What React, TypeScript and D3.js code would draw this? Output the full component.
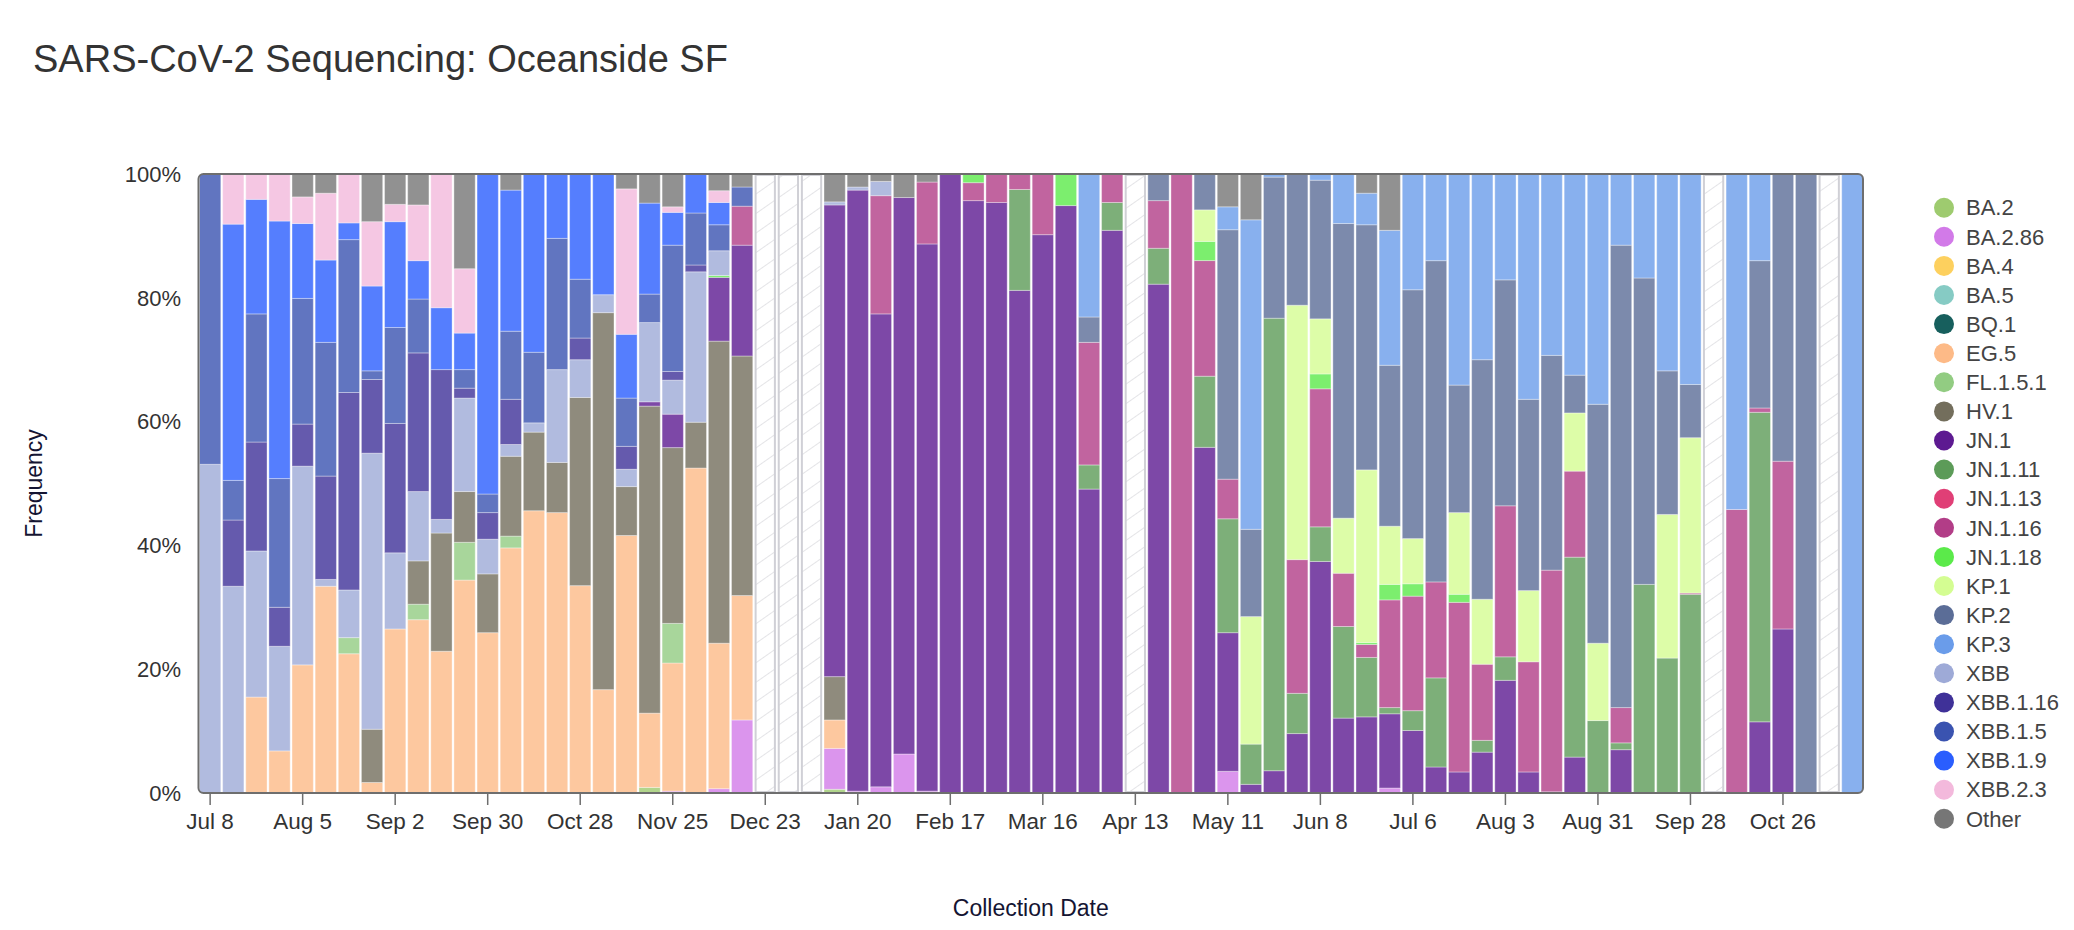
import * as d3 from "d3";

// lineages, bottom to top of each stack (same order as the legend)
const lineages = [
  "BA.2", "BA.2.86", "BA.4", "BA.5", "BQ.1", "EG.5", "FL.1.5.1", "HV.1",
  "JN.1", "JN.1.11", "JN.1.13", "JN.1.16", "JN.1.18", "KP.1", "KP.2", "KP.3",
  "XBB", "XBB.1.16", "XBB.1.5", "XBB.1.9", "XBB.2.3", "Other",
];

const colors = [
  "#9ecb6f", "#d27ae8", "#fdd05e", "#86cbc4", "#175f5d", "#fdba87", "#92cc82", "#736e5c",
  "#5d1a91", "#5c9b58", "#e03f76", "#b23d87", "#5bea4a", "#d4fd92", "#5b6d97", "#6a9cea",
  "#9eaad7", "#3f3198", "#3a53b0", "#2a5efe", "#f3b9dc", "#767676",
];

// weekly collection dates start on Jul 8 2023, 72 weeks
const firstWeek = "2023-07-08";
const weekCount = 72;
// weeks with no sequencing data (drawn hatched)
const missingWeeks = [24, 25, 26, 40, 65, 70];

const tickLabels = [
  "Jul 8", "Aug 5", "Sep 2", "Sep 30", "Oct 28", "Nov 25", "Dec 23", "Jan 20", "Feb 17",
  "Mar 16", "Apr 13", "May 11", "Jun 8", "Jul 6", "Aug 3", "Aug 31", "Sep 28", "Oct 26",
];
const yTicks = [0, 0.2, 0.4, 0.6, 0.8, 1];

// percent of sequences per week, one array per lineage
const BA_2 = [
  0, 0, 0, 0, 0, 0, 0, 0, 0, 0, 0, 0,
  0, 0, 0, 0, 0, 0, 0, 0.9, 0, 0, 0, 0,
  0, 0, 0, 0.6, 0, 0, 0, 0, 0, 0, 0, 0,
  0, 0, 0, 0, 0, 0, 0, 0, 0, 0, 0, 0,
  0, 0, 0, 0, 0, 0, 0, 0, 0, 0, 0, 0,
  0, 0, 0, 0, 0, 0, 0, 0, 0, 0, 0, 0,
];
const BA_2_86 = [
  0, 0, 0, 0, 0, 0, 0, 0, 0, 0, 0, 0,
  0, 0, 0, 0, 0, 0, 0, 0, 0.3, 0, 0.7, 11.8,
  0, 0, 0, 6.6, 0.3, 1.0, 6.3, 0.3, 0, 0, 0, 0,
  0, 0, 0, 0, 0, 0, 0, 0, 3.5, 0, 0, 0,
  0, 0, 0, 0.8, 0, 0, 0, 0, 0, 0, 0, 0,
  0, 0, 0, 0, 0, 0, 0, 0, 0, 0, 0, 0,
];
const BA_4 = [
  0, 0, 0, 0, 0, 0, 0, 0, 0, 0, 0, 0,
  0, 0, 0, 0, 0, 0, 0, 0, 0, 0, 0, 0,
  0, 0, 0, 0, 0, 0, 0, 0, 0, 0, 0, 0,
  0, 0, 0, 0, 0, 0, 0, 0, 0, 0, 0, 0,
  0, 0, 0, 0, 0, 0, 0, 0, 0, 0, 0, 0,
  0, 0, 0, 0, 0, 0, 0, 0, 0, 0, 0, 0,
];
const BA_5 = [
  0, 0, 0, 0, 0, 0, 0, 0, 0, 0, 0, 0,
  0, 0, 0, 0, 0, 0, 0, 0, 0, 0, 0, 0,
  0, 0, 0, 0, 0, 0, 0, 0, 0, 0, 0, 0,
  0, 0, 0, 0, 0, 0, 0, 0, 0, 0, 0, 0,
  0, 0, 0, 0, 0, 0, 0, 0, 0, 0, 0, 0,
  0, 0, 0, 0, 0, 0, 0, 0, 0, 0, 0, 0,
];
const BQ_1 = [
  0, 0, 0, 0, 0, 0, 0, 0, 0, 0, 0, 0,
  0, 0, 0, 0, 0, 0, 0, 0, 0, 0, 0, 0,
  0, 0, 0, 0, 0, 0, 0, 0, 0, 0, 0, 0,
  0, 0, 0, 0, 0, 0, 0, 0, 0, 0, 0, 0,
  0, 0, 0, 0, 0, 0, 0, 0, 0, 0, 0, 0,
  0, 0, 0, 0, 0, 0, 0, 0, 0, 0, 0, 0,
];
const EG_5 = [
  0, 0, 15.5, 6.8, 20.7, 33.4, 22.5, 1.7, 26.5, 28.0, 22.9, 34.4,
  25.9, 39.6, 45.6, 45.3, 33.5, 16.7, 41.6, 12.0, 20.7, 52.5, 23.5, 20.1,
  0, 0, 0, 4.6, 0, 0, 0, 0, 0, 0, 0, 0,
  0, 0, 0, 0, 0, 0, 0, 0, 0, 0, 0, 0,
  0, 0, 0, 0, 0, 0, 0, 0, 0, 0, 0, 0,
  0, 0, 0, 0, 0, 0, 0, 0, 0, 0, 0, 0,
];
const FL_1_5_1 = [
  0, 0, 0, 0, 0, 0, 2.6, 0, 0, 2.5, 0, 6.1,
  0, 1.9, 0, 0, 0, 0, 0, 0, 6.4, 0, 0, 0,
  0, 0, 0, 0, 0, 0, 0, 0, 0, 0, 0, 0,
  0, 0, 0, 0, 0, 0, 0, 0, 0, 0, 0, 0,
  0, 0, 0, 0, 0, 0, 0, 0, 0, 0, 0, 0,
  0, 0, 0, 0, 0, 0, 0, 0, 0, 0, 0, 0,
];
const HV_1 = [
  0, 0, 0, 0, 0, 0, 0, 8.6, 0, 7.0, 19.1, 8.2,
  9.5, 12.9, 12.7, 8.1, 30.4, 60.9, 7.9, 49.6, 28.4, 7.4, 48.8, 38.7,
  0, 0, 0, 7.0, 0, 0, 0, 0, 0, 0, 0, 0,
  0, 0, 0, 0, 0, 0, 0, 0, 0, 0, 0, 0,
  0, 0, 0, 0, 0, 0, 0, 0, 0, 0, 0, 0,
  0, 0, 0, 0, 0, 0, 0, 0, 0, 0, 0, 0,
];
const JN_1 = [
  0, 0, 0, 0, 0, 0, 0, 0, 0, 0, 0, 0,
  0, 0, 0, 0, 0, 0, 0, 0.7, 5.4, 0, 10.3, 17.9,
  0, 0, 0, 76.2, 97.1, 76.4, 89.9, 88.4, 100, 95.7, 95.4, 81.2,
  90.2, 94.9, 49.1, 90.9, 0, 82.2, 0, 55.9, 22.4, 1.4, 3.6, 9.6,
  37.4, 12.1, 12.3, 12.0, 10.1, 4.2, 3.4, 6.6, 18.2, 3.4, 0.2, 5.8,
  0, 7.0, 0, 0, 0, 0, 0, 11.5, 26.5, 0, 0, 0,
];
const JN_1_11 = [
  0, 0, 0, 0, 0, 0, 0, 0, 0, 0, 0, 0,
  0, 0, 0, 0, 0, 0, 0, 0, 0, 0, 0, 0,
  0, 0, 0, 0, 0, 0, 0, 0, 0, 0, 0, 16.3,
  0, 0, 3.9, 4.5, 0, 5.8, 0, 11.5, 18.4, 6.5, 73.1, 6.5,
  5.6, 14.8, 9.6, 1.0, 3.2, 14.4, 0, 1.9, 3.8, 0, 0, 32.3,
  11.7, 1.1, 33.7, 21.8, 32.1, 0, 0, 50.0, 0, 0, 0, 0,
];
const JN_1_13 = [
  0, 0, 0, 0, 0, 0, 0, 0, 0, 0, 0, 0,
  0, 0, 0, 0, 0, 0, 0, 0, 0, 0, 0, 0,
  0, 0, 0, 0, 0, 0, 0, 0, 0, 0, 0, 0,
  0, 0, 0, 0, 0, 0, 0, 0, 0, 0, 0, 0,
  0, 0, 0, 0, 0, 0, 0, 0, 0, 0, 0, 0,
  0, 0, 0, 0, 0, 0, 0, 0, 0, 0, 0, 0,
];
const JN_1_16 = [
  0, 0, 0, 0, 0, 0, 0, 0, 0, 0, 0, 0,
  0, 0, 0, 0, 0, 0, 0, 0, 0, 0, 0, 6.3,
  0, 0, 0, 0, 0, 19.1, 0, 10.0, 0, 2.9, 4.6, 2.5,
  9.8, 0, 19.8, 4.6, 0, 7.7, 100, 18.7, 6.4, 0, 0, 21.6,
  22.3, 8.6, 2.1, 17.4, 18.5, 15.5, 27.4, 12.3, 24.4, 17.8, 35.8, 13.9,
  0, 5.7, 0, 0, 0.2, 0, 45.8, 0.7, 27.1, 0, 0, 0,
];
const JN_1_18 = [
  0, 0, 0, 0, 0, 0, 0, 0, 0, 0, 0, 0,
  0, 0, 0, 0, 0, 0, 0, 0, 0, 0, 0.3, 0,
  0, 0, 0, 0, 0, 0, 0, 0, 0, 1.4, 0, 0,
  0, 5.1, 0, 0, 0, 0, 0, 3.1, 0, 0, 0, 0,
  2.4, 0, 0.3, 2.5, 2.0, 0, 1.3, 0, 0, 0, 0, 0,
  0, 0, 0, 0, 0, 0, 0, 0, 0, 0, 0, 0,
];
const KP_1 = [
  0, 0, 0, 0, 0, 0, 0, 0, 0, 0, 0, 0,
  0, 0, 0, 0, 0, 0, 0, 0, 0, 0, 0, 0,
  0, 0, 0, 0, 0, 0, 0, 0, 0, 0, 0, 0,
  0, 0, 0, 0, 0, 0, 0, 5.1, 0, 20.6, 0, 41.1,
  8.9, 8.9, 27.9, 9.4, 7.3, 0, 13.2, 10.5, 0, 11.5, 0, 9.4,
  12.5, 0, 0, 23.2, 25.1, 0, 0, 0, 0, 0, 0, 0,
];
const KP_2 = [
  0, 0, 0, 0, 0, 0, 0, 0, 0, 0, 0, 0,
  0, 0, 0, 0, 0, 0, 0, 0, 0, 0, 0, 0,
  0, 0, 0, 0, 0, 0, 0, 0, 0, 0, 0, 0,
  0, 0, 4.1, 0, 0, 4.3, 0, 5.8, 40.3, 14.1, 22.8, 21.2,
  22.4, 47.6, 39.6, 26.0, 40.2, 51.9, 20.6, 38.7, 36.5, 30.9, 34.7, 6.1,
  38.6, 74.7, 49.5, 23.2, 8.6, 0, 0, 23.8, 46.4, 100, 0, 0,
];
const KP_3 = [
  0, 0, 0, 0, 0, 0, 0, 0, 0, 0, 0, 0,
  0, 0, 0, 0, 0, 0, 0, 0, 0, 0, 0, 0,
  0, 0, 0, 0, 0, 0, 0, 0, 0, 0, 0, 0,
  0, 0, 23.1, 0, 0, 0, 0, 0, 3.7, 50.0, 0.5, 0,
  1.0, 8.0, 5.1, 21.8, 18.7, 14.0, 34.1, 30.0, 17.1, 36.4, 29.3, 32.5,
  37.2, 11.5, 16.8, 31.8, 34.0, 0, 54.2, 14.0, 0, 0, 0, 100,
];
const XBB = [
  53.1, 33.4, 23.6, 16.9, 32.1, 1.1, 7.7, 44.6, 12.3, 11.2, 2.2, 15.1,
  5.6, 1.9, 1.5, 15.0, 6.1, 2.9, 2.8, 12.8, 5.5, 24.3, 4.0, 0,
  0, 0, 0, 0.5, 0.5, 2.3, 0, 0, 0, 0, 0, 0,
  0, 0, 0, 0, 0, 0, 0, 0, 0, 0, 0, 0,
  0, 0, 0, 0, 0, 0, 0, 0, 0, 0, 0, 0,
  0, 0, 0, 0, 0, 0, 0, 0, 0, 0, 0, 0,
];
const XBB_1_16 = [
  0, 10.7, 17.6, 6.3, 6.8, 16.7, 31.9, 11.9, 20.9, 22.4, 24.2, 1.6,
  4.3, 7.3, 0, 0, 3.5, 0, 3.7, 0, 1.4, 1.1, 0, 0,
  0, 0, 0, 0, 0, 0, 0, 0, 0, 0, 0, 0,
  0, 0, 0, 0, 0, 0, 0, 0, 0, 0, 0, 0,
  0, 0, 0, 0, 0, 0, 0, 0, 0, 0, 0, 0,
  0, 0, 0, 0, 0, 0, 0, 0, 0, 0, 0, 0,
];
const XBB_1_5 = [
  46.9, 6.4, 20.7, 20.8, 20.3, 21.6, 24.7, 1.4, 15.5, 8.7, 0, 3.0,
  3.0, 11.0, 11.4, 21.2, 9.5, 0, 7.8, 4.6, 20.4, 8.4, 4.2, 3.1,
  0, 0, 0, 0, 0, 0, 0, 0, 0, 0, 0, 0,
  0, 0, 0, 0, 0, 0, 0, 0, 0, 0, 0, 0,
  0, 0, 0, 0, 0, 0, 0, 0, 0, 0, 0, 0,
  0, 0, 0, 0, 0, 0, 0, 0, 0, 0, 0, 0,
];
const XBB_1_9 = [
  0, 41.4, 18.5, 41.6, 12.1, 13.3, 2.7, 13.7, 17.1, 6.2, 10.0, 5.9,
  51.7, 22.8, 28.8, 10.4, 17.0, 19.5, 10.3, 14.7, 5.3, 6.3, 3.6, 0,
  0, 0, 0, 0, 0, 0, 0, 0, 0, 0, 0, 0,
  0, 0, 0, 0, 0, 0, 0, 0, 0, 0, 0, 0,
  0, 0, 0, 0, 0, 0, 0, 0, 0, 0, 0, 0,
  0, 0, 0, 0, 0, 0, 0, 0, 0, 0, 0, 0,
];
const XBB_2_3 = [
  0, 8.1, 4.1, 7.6, 4.3, 10.8, 7.9, 10.4, 2.8, 9.0, 21.6, 10.4,
  0, 0, 0, 0, 0, 0, 23.5, 0, 0.9, 0, 1.9, 0,
  0, 0, 0, 0, 0, 0, 0, 0, 0, 0, 0, 0,
  0, 0, 0, 0, 0, 0, 0, 0, 0, 0, 0, 0,
  0, 0, 0, 0, 0, 0, 0, 0, 0, 0, 0, 0,
  0, 0, 0, 0, 0, 0, 0, 0, 0, 0, 0, 0,
];
const OTHER = [
  0, 0, 0, 0, 3.7, 3.1, 0, 7.7, 4.9, 5.0, 0, 15.3,
  0, 2.6, 0, 0, 0, 0, 2.4, 4.7, 5.3, 0, 2.7, 2.1,
  0, 0, 0, 4.5, 2.1, 1.2, 3.8, 1.3, 0, 0, 0, 0,
  0, 0, 0, 0, 0, 0, 0, 0, 5.3, 7.4, 0, 0,
  0, 0, 3.1, 9.1, 0, 0, 0, 0, 0, 0, 0, 0,
  0, 0, 0, 0, 0, 0, 0, 0, 0, 0, 0, 0,
];

const series = [
  BA_2, BA_2_86, BA_4, BA_5, BQ_1, EG_5, FL_1_5_1, HV_1,
  JN_1, JN_1_11, JN_1_13, JN_1_16, JN_1_18, KP_1, KP_2, KP_3,
  XBB, XBB_1_16, XBB_1_5, XBB_1_9, XBB_2_3, OTHER,
];

const W = 2074;
const H = 930;
const margin = { top: 174, right: 211, bottom: 137, left: 199.5 };
const font = "'Liberation Sans', Arial, Helvetica, sans-serif";

export default function App() {
  const start = new Date(firstWeek + "T00:00:00Z");
  const weeks = d3.range(weekCount).map((i) => d3.utcDay.offset(start, 7 * i));

  const rows = weeks.map((date, i) => {
    const row: Record<string, any> = { date, i };
    lineages.forEach((name, k) => (row[name] = series[k][i]));
    return row;
  });

  const stacked = d3
    .stack<any>()
    .keys(lineages)
    .order(d3.stackOrderNone)
    .offset(d3.stackOffsetExpand)(rows);

  const x = d3
    .scaleBand<number>()
    .domain(d3.range(weekCount))
    .range([margin.left, W - margin.right])
    .paddingInner(0.08)
    .paddingOuter(0);

  const y = d3
    .scaleLinear()
    .domain([0, 1])
    .range([H - margin.bottom, margin.top]);

  const color = d3.scaleOrdinal<string, string>().domain(lineages).range(colors);
  const fmt = d3.format(".0%");
  const bw = x.bandwidth();
  const plotLeft = margin.left - 1;
  const plotRight = W - margin.right;
  const plotTop = margin.top;
  const plotBottom = H - margin.bottom;

  return (
    <svg
      width={W}
      height={H}
      style={{ position: "absolute", left: 0, top: 0, background: "#fff" }}
      fontFamily={font}
    >
      <defs>
        <pattern
          id="hatch"
          width={16}
          height={16}
          patternUnits="userSpaceOnUse"
          patternTransform="rotate(55)"
        >
          <line x1={0} y1={0} x2={0} y2={16} stroke="#d2d2d6" strokeWidth={1.2} />
        </pattern>
        <clipPath id="plot-clip">
          <rect
            x={plotLeft}
            y={plotTop}
            width={plotRight - plotLeft}
            height={plotBottom - plotTop}
            rx={5}
          />
        </clipPath>
      </defs>

      <text x={33} y={72} fontSize={38} fill="#333">
        SARS-CoV-2 Sequencing: Oceanside SF
      </text>

      <g clipPath="url(#plot-clip)">
        {missingWeeks.map((i) => (
          <rect
            key={"m" + i}
            x={x(i)! + 1}
            y={plotTop + 1}
            width={bw - 2}
            height={plotBottom - plotTop - 2}
            fill="url(#hatch)"
            stroke="#d0d0d6"
            strokeWidth={2}
          />
        ))}
        {stacked.map((s, k) => (
          <g key={lineages[k]} fill={color(lineages[k])}>
            {s.map((d, i) => {
              if (missingWeeks.includes(i)) return null;
              const h = y(d[0]) - y(d[1]);
              if (!(h > 0)) return null;
              return (
                <rect
                  key={i}
                  x={x(i)}
                  y={y(d[1])}
                  width={bw}
                  height={h}
                  fillOpacity={0.8}
                  stroke="#ffffff"
                  strokeOpacity={0.35}
                  strokeWidth={1}
                />
              );
            })}
          </g>
        ))}
      </g>

      <rect
        x={plotLeft}
        y={plotTop}
        width={plotRight - plotLeft}
        height={plotBottom - plotTop}
        rx={5}
        fill="none"
        stroke="#6e6e6e"
        strokeWidth={2}
      />

      {yTicks.map((v) => (
        <text
          key={v}
          x={181}
          y={y(v)}
          dy="0.35em"
          textAnchor="end"
          fontSize={22}
          fill="#333"
        >
          {fmt(v)}
        </text>
      ))}

      {tickLabels.map((label, j) => {
        const cx = x(j * 4)! + bw / 2;
        return (
          <g key={label + j}>
            <line x1={cx} x2={cx} y1={plotBottom} y2={plotBottom + 12} stroke="#6e6e6e" strokeWidth={1.5} />
            <text x={cx} y={plotBottom + 36} textAnchor="middle" fontSize={22.5} fill="#333">
              {label}
            </text>
          </g>
        );
      })}

      <text
        transform={`translate(42, ${(plotTop + plotBottom) / 2}) rotate(-90)`}
        textAnchor="middle"
        fontSize={23}
        fill="#141432"
      >
        Frequency
      </text>
      <text
        x={(plotLeft + plotRight) / 2}
        y={916}
        textAnchor="middle"
        fontSize={23}
        fill="#141432"
      >
        Collection Date
      </text>

      <g>
        {lineages.map((name, k) => (
          <g key={name} transform={`translate(1944, ${207.7 + k * 29.1})`}>
            <circle r={10} fill={color(name)} />
            <text x={22} dy="0.35em" fontSize={22} fill="#444">
              {name}
            </text>
          </g>
        ))}
      </g>
    </svg>
  );
}
